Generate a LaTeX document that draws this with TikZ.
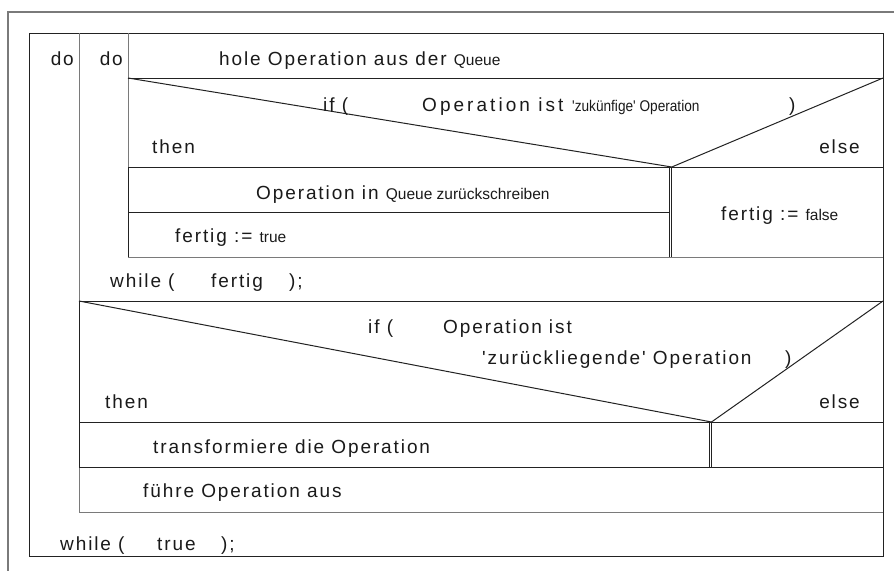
\documentclass[tikz,border=0pt]{standalone}
\usepackage{fontspec}
\setmainfont{Liberation Sans}
\newfontfamily\widefont[LetterSpace=10]{Liberation Sans}
\newfontfamily\widerfont[LetterSpace=16]{Liberation Sans}
\newfontfamily\plainfont{Liberation Sans}
\newcommand\smtxt[1]{{\plainfont\fontsize{15.5}{18}\selectfont #1}}
\definecolor{ink}{HTML}{1A1A1A}
\definecolor{rule}{HTML}{222222}
\definecolor{softrule}{HTML}{7A7A7A}
\tikzset{
  lbl/.style={font=\widefont\fontsize{19}{22}\selectfont, text=ink, anchor=base west, inner sep=0pt},
  widelbl/.style={lbl, font=\widerfont\fontsize{19}{22}\selectfont},
  rlbl/.style={lbl, anchor=base east},
  struct/.style={draw=rule, line width=1pt},
  thin/.style={draw=softrule, line width=1pt},
  frame/.style={draw=softrule, line width=1.2pt},
}
\begin{document}
\begin{tikzpicture}[x=1pt,y=-1pt]
\useasboundingbox (0,0) rectangle (894,571);
\fill[white] (0,0) rectangle (894,571);

% page frame (top and left only)
\draw[frame] (894,12) -- (8,12) -- (8,571);

% outer loop box
\draw[struct] (29.5,33) rectangle (883,556);
\draw[thin] (79,33) -- (79,512);

% inner loop
\draw[thin] (128,33) -- (128,257);
\draw[struct] (128,78) -- (883,78);
% first decision
\draw[struct] (128,78) -- (671.8,167) -- (883,78);
\draw[struct] (128,167) -- (883,167);
\draw[struct] (669.3,167) -- (669.3,257);
\draw[struct] (671.8,167) -- (671.8,257);
\draw[struct] (128,212) -- (669.3,212);
\draw[thin] (128,257) -- (883,257);
\draw[struct] (128.5,167) -- (128.5,257);

% second decision
\draw[struct] (79,301) -- (883,301);
\draw[struct] (79,301) -- (711.5,422) -- (883,301);
\draw[struct] (79,422) -- (883,422);
\draw[struct] (709.2,422) -- (709.2,467);
\draw[struct] (711.7,422) -- (711.7,467);
\draw[struct] (79,467) -- (883,467);
\draw[thin] (79,512) -- (883,512);
\draw[struct] (79.5,301) -- (79.5,467);

% loop keywords
\node[rlbl] (do1) at (74,65) {do};
\node[rlbl] (do2) at (123,65) {do};

% inner loop body
\node[lbl] (fetch) at (219,65) {hole Operation aus der \smtxt{Queue}};
\node[lbl] (if1) at (323,111) {if (};
\node[widelbl] (cond1a) at (422,111) {Operation ist};
\node[lbl] (cond1c) at (572,111) {\smtxt{\scalebox{0.88}[1]{'zukünfige' Operation}}};
\node[lbl] (close1) at (789,111) {)};
\node[lbl] (then1) at (152,153) {then};
\node[rlbl] (else1) at (860,153) {else};
\node[lbl] (writeback) at (256,199) {Operation in \smtxt{Queue zurückschreiben}};
\node[lbl] (settrue) at (175,242) {fertig := \smtxt{true}};
\node[lbl] (setfalse) at (721,220) {fertig := \smtxt{false}};

\node[lbl] (while1) at (110,287) {while (};
\node[lbl] (cndf) at (211,287) {fertig};
\node[lbl] (end1) at (289,287) {);};

% second decision
\node[lbl] (if2) at (368,333) {if (};
\node[lbl] (cond2a) at (443,333) {Operation ist};
\node[lbl] (cond2b) at (482,364) {'zurückliegende' Operation};
\node[lbl] (close2) at (785,364) {)};
\node[lbl] (then2) at (105,408) {then};
\node[rlbl] (else2) at (860,408) {else};
\node[lbl] (transform) at (153,453) {transformiere die Operation};
\node[lbl] (execute) at (143,497) {führe Operation aus};

\node[lbl] (while2) at (60,550) {while (};
\node[lbl] (cndt) at (157,550) {true};
\node[lbl] (end2) at (221,550) {);};
\end{tikzpicture}
\end{document}
